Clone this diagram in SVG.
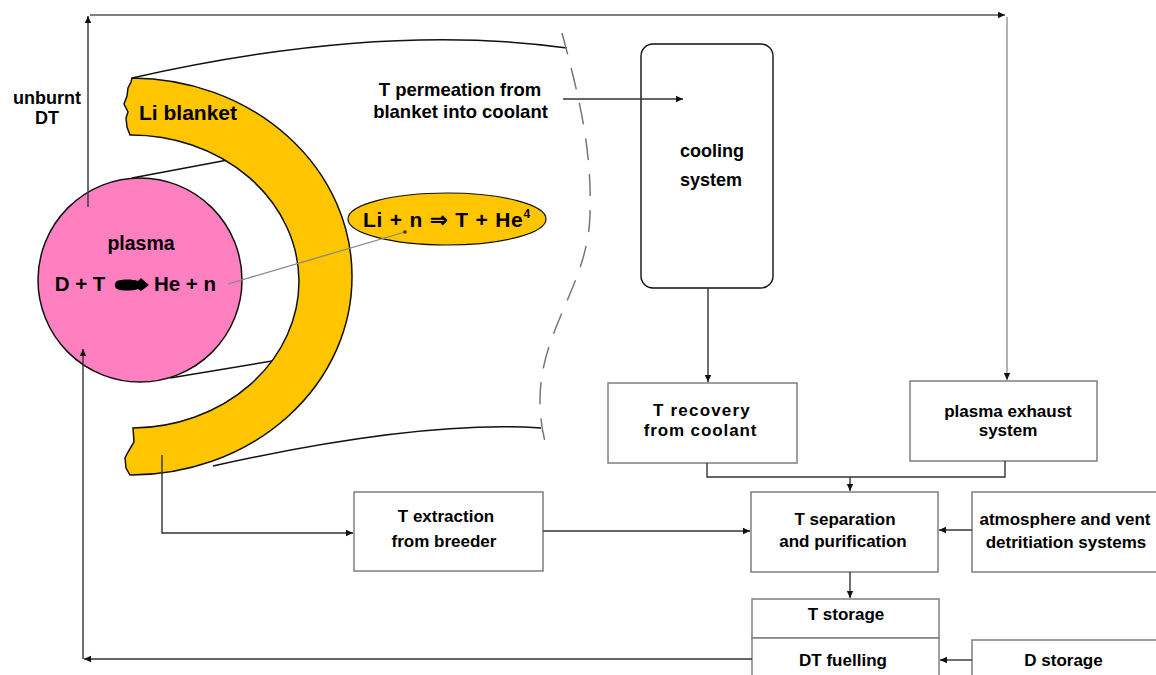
<svg xmlns="http://www.w3.org/2000/svg" width="1156" height="675" viewBox="0 0 1156 675">
<style>
.t{font-family:"Liberation Sans",Arial,sans-serif;font-weight:bold;fill:#000;text-anchor:middle}
.n{font-family:"Liberation Sans",Arial,sans-serif;font-weight:bold;fill:#000;text-anchor:middle;font-size:17px}
.box{fill:#fff;stroke:#7f7f7f;stroke-width:1.5}
.c{fill:none;stroke:#333;stroke-width:1.4}
.edge{fill:none;stroke:#111;stroke-width:1.5}
</style>
<defs>
<marker id="ah" markerWidth="8" markerHeight="8" refX="7" refY="4" orient="auto" markerUnits="userSpaceOnUse">
<path d="M0,0.8 L7,4 L0,7.2 Z" fill="#111"/>
</marker>
</defs>
<rect width="1156" height="675" fill="#fff"/>

<g id="reactor">
<path class="edge" d="M132,78 Q380,22 567,48"/>
<path class="edge" d="M213,466 Q420,420 541,428"/>
<path d="M562,33 C580,100 592,150 590,215 C588,285 540,330 540,400 C540,420 543,435 546,445" fill="none" stroke="#777" stroke-width="1.5" stroke-dasharray="22,14"/>
<path class="edge" d="M132,178 L233,159"/>
<path class="edge" d="M170,378 L272,361"/>
</g>

<g id="li-blanket">
<path d="M132,78 A221,198 0 0 1 352,276 A221,198 0 0 1 130,475 L126,468 L125,458 L128,452 L134,442 L133,428 A168,147 0 0 0 299,281 A168,147 0 0 0 130,135 L127,127 L126,118 L128,112 L124,104 L127,96 L128,88 L131,82 Z" fill="#ffc600" stroke="#111" stroke-width="1.5"/>
<text class="t" x="188" y="120" font-size="21">Li blanket</text>
</g>

<g id="plasma">
<circle cx="140" cy="280" r="102" fill="#ff80c0" stroke="#111" stroke-width="1.5"/>
<text class="t" x="141" y="250" font-size="19.5">plasma</text>
<text class="t" x="80" y="291" font-size="20.5">D + T</text>
<path d="M117,281 C122,279 132,279 138,281 L141,278 L149,285 L141,291 L138,289 C132,291 122,291 117,289 C114,287 114,283 117,281 Z" fill="#000"/>
<text class="t" x="185" y="291" font-size="20.5">He + n</text>
</g>

<g id="reaction">
<ellipse cx="447" cy="219" rx="99" ry="26" fill="#ffc600" stroke="#111" stroke-width="1.2"/>
<text class="t" x="447" y="226.5" font-size="21" letter-spacing="0.8">Li + n ⇒ T + He<tspan font-size="12" dy="-9">4</tspan></text>
</g>

<g id="unburnt-label">
<text class="t" x="47" y="103.5" font-size="18">unburnt</text>
<text class="t" x="47" y="123.5" font-size="18">DT</text>
</g>

<g id="permeation-label">
<text class="t" x="460" y="95.5" font-size="18.5">T permeation from</text>
<text class="t" x="460.5" y="117.5" font-size="18.5">blanket into coolant</text>
</g>

<g id="cooling-system">
<rect x="641" y="44" width="132" height="244" rx="12" fill="#fff" stroke="#111" stroke-width="1.4"/>
<text class="t" x="712" y="156.5" font-size="18">cooling</text>
<text class="t" x="711" y="185.5" font-size="18">system</text>
</g>

<g id="t-recovery">
<rect class="box" x="608" y="383" width="189" height="80"/>
<text class="t" x="702" y="416" font-size="17" letter-spacing="1.2">T recovery</text>
<text class="t" x="700.5" y="436" font-size="17" letter-spacing="0.9">from coolant</text>
</g>

<g id="plasma-exhaust">
<rect class="box" x="910" y="381" width="187" height="80"/>
<text class="t" x="1008" y="417" font-size="17">plasma exhaust</text>
<text class="t" x="1008" y="436" font-size="17">system</text>
</g>

<g id="t-extraction">
<rect class="box" x="354" y="492" width="189" height="79"/>
<text class="n" x="446" y="522">T extraction</text>
<text class="n" x="444" y="547">from breeder</text>
</g>

<g id="t-separation">
<rect class="box" x="751" y="492" width="187" height="80"/>
<text class="n" x="845" y="525">T separation</text>
<text class="n" x="843" y="547">and purification</text>
</g>

<g id="atmosphere">
<rect class="box" x="972" y="492" width="190" height="80"/>
<text class="n" x="1065" y="525">atmosphere and vent</text>
<text class="n" x="1066" y="548">detritiation systems</text>
</g>

<g id="t-storage">
<rect class="box" x="752" y="599" width="187" height="39"/>
<text class="n" x="846" y="620">T storage</text>
</g>

<g id="dt-fuelling">
<rect class="box" x="752" y="638" width="187" height="44"/>
<text class="n" x="843" y="666">DT fuelling</text>
</g>

<g id="d-storage">
<rect class="box" x="972" y="640" width="190" height="42"/>
<text class="n" x="1063.5" y="666">D storage</text>
</g>

<g id="connectors">
<path d="M228,284 L405,232" fill="none" stroke="#888" stroke-width="1.3"/>
<circle cx="405" cy="232" r="1.8" fill="#333"/>
<path class="c" d="M88,207 L88,16" marker-end="url(#ah)"/>
<path d="M90,15 L1005,15" fill="none" stroke="#555" stroke-width="1.6" marker-end="url(#ah)"/>
<path d="M1007,17 L1007,380" fill="none" stroke="#999" stroke-width="1.5" marker-end="url(#ah)"/>
<path class="c" d="M563,99 L683,99" marker-end="url(#ah)"/>
<path class="c" d="M708,288 L708,382" marker-end="url(#ah)"/>
<path class="c" d="M707,463 L707,477 L1005,477 L1005,461"/>
<path class="c" d="M850,477 L850,491" marker-end="url(#ah)"/>
<path class="c" d="M162,455 L162,533 L353,533" marker-end="url(#ah)"/>
<path class="c" d="M543,531 L750,531" marker-end="url(#ah)"/>
<path class="c" d="M972,530 L939,530" marker-end="url(#ah)"/>
<path class="c" d="M850,572 L850,598" marker-end="url(#ah)"/>
<path class="c" d="M972,660 L940,660" marker-end="url(#ah)"/>
<path class="c" d="M752,659 L84,659" marker-end="url(#ah)"/>
<path class="c" d="M83,659 L83,349" marker-end="url(#ah)"/>
</g>
</svg>
